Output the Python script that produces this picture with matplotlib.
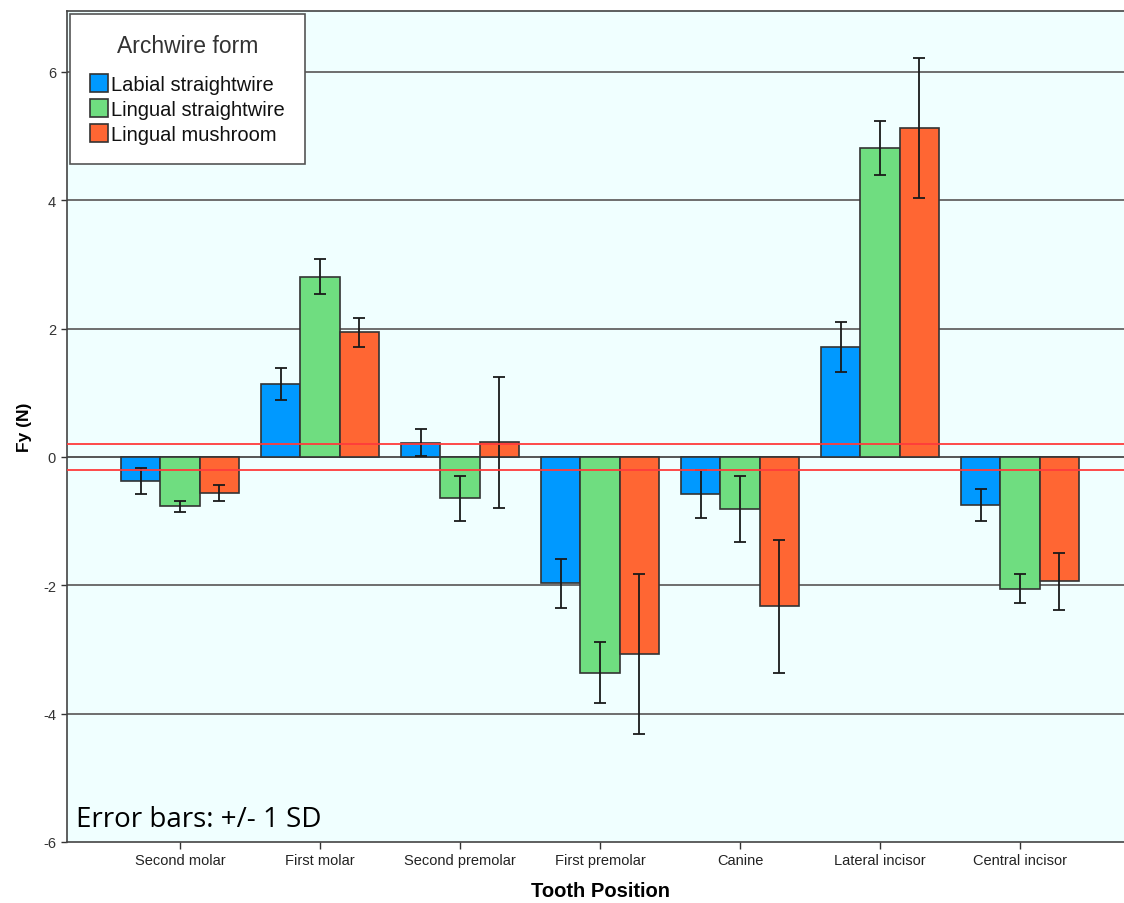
import matplotlib
matplotlib.use("Agg")
import matplotlib.pyplot as plt
import numpy as np
from matplotlib.patches import Patch

categories = ["Second molar", "First molar", "Second premolar", "First premolar",
              "Canine", "Lateral incisor", "Central incisor"]
series_names = ["Labial straightwire", "Lingual straightwire", "Lingual mushroom"]
labial_mean = [-0.37, 1.14, 0.22, -1.97, -0.58, 1.72, -0.75]
labial_sd = [0.20, 0.25, 0.21, 0.38, 0.37, 0.39, 0.25]
lingual_mean = [-0.77, 2.81, -0.64, -3.36, -0.81, 4.81, -2.05]
lingual_sd = [0.08, 0.27, 0.35, 0.47, 0.52, 0.42, 0.22]
mushroom_mean = [-0.56, 1.94, 0.23, -3.07, -2.33, 5.12, -1.94]
mushroom_sd = [0.12, 0.23, 1.02, 1.24, 1.04, 1.09, 0.45]
ref_lines = [0.2, -0.2]
yticks = [-6, -4, -2, 0, 2, 4, 6]

colors = ["#0099FF", "#6FDD80", "#FF6633"]

W, H = 1124, 904
left_px, right_px, top_px, bot_px = 67, 1134, 12, 843
fig = plt.figure(figsize=(W / 100, H / 100), dpi=100)
ax = fig.add_axes([left_px / W, (H - bot_px) / H, (right_px - left_px) / W, (bot_px - top_px) / H])
ax.set_facecolor("#F0FFFF")
axw = right_px - left_px
axh = bot_px - top_px

x = np.arange(len(categories))
w = 0.28
means = [labial_mean, lingual_mean, mushroom_mean]
sds = [labial_sd, lingual_sd, mushroom_sd]

for yv in [-4, -2, 2, 4, 6]:
    ax.axhline(yv, color="#6E6E6E", lw=1.4, zorder=1)
ax.axhline(0, color="#555555", lw=1.4, zorder=1)

for i in range(3):
    xs = x + (i - 1) * w
    ax.bar(xs, means[i], width=w, color=colors[i], edgecolor="#333333",
           linewidth=1.2, zorder=2)
    ax.errorbar(xs, means[i], yerr=sds[i], fmt="none", ecolor="#1a1a1a",
                elinewidth=1.3, capsize=4, capthick=1.3, zorder=3)

for r in ref_lines:
    ax.axhline(r, color="#FF3B3B", lw=1.3, zorder=4)

ax.set_ylim(-6, 6.95)
ax.set_xlim((left_px - 180) / 140, (right_px - 180) / 140)
ax.set_yticks(yticks)
ax.set_yticklabels([str(v) for v in yticks], fontsize=10.5, family="Liberation Sans", color="#333333")
ax.set_xticks(x)
ax.set_xticklabels(categories, fontsize=10.5, family="Liberation Sans", color="#222222")
ax.tick_params(axis="both", direction="out", length=5, width=1, color="#333333")
ax.tick_params(axis="y", length=4, pad=4)
ax.tick_params(axis="x", pad=3)
for s in ["left", "bottom", "top"]:
    ax.spines[s].set_color("#444444")
    ax.spines[s].set_linewidth(1.2)
ax.spines["right"].set_visible(False)

ax.set_ylabel("Fy (N)", fontsize=12.5, fontweight="bold", family="Liberation Sans", labelpad=8)
ax.set_xlabel("Tooth Position", fontsize=14.5, fontweight="bold", family="Liberation Sans", labelpad=10)

handles = [Patch(facecolor=c, edgecolor="#333333", linewidth=1.2) for c in colors]
leg = ax.legend(handles, series_names, title="Archwire form", loc="upper left",
                bbox_to_anchor=((70 - left_px) / axw, 1 - (15 - top_px) / axh),
                borderaxespad=0,
                prop={"family": "Liberation Sans", "size": 14.5},
                title_fontproperties={"family": "Liberation Sans", "size": 16.5},
                handlelength=0.9, handleheight=1.0, handletextpad=0.15,
                labelspacing=0.25, borderpad=1.0, fancybox=False, framealpha=1,
                edgecolor="#555555")
leg.get_frame().set_linewidth(1.2)
leg.get_title().set_color("#333333")
leg._legend_box.sep = 12
for t in leg.get_texts():
    t.set_color("#111111")
leg.set_zorder(10)

ax.text((76 - left_px) / axw, 0.011, "Error bars: +/- 1 SD", transform=ax.transAxes,
        fontsize=20, family="Open Sans", ha="left", va="bottom", zorder=5)

fig.savefig("out.png", dpi=100)
